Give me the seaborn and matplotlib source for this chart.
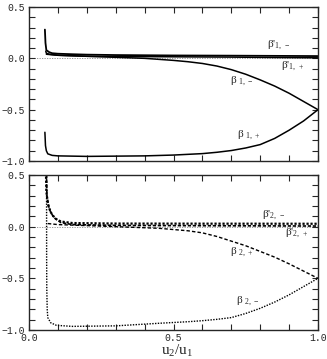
import numpy as np
import pandas as pd
import matplotlib
matplotlib.use("Agg")
import matplotlib.pyplot as plt
from matplotlib.ticker import MultipleLocator
import seaborn as sns

# --- values (x = u2/u1) ---
x_b1p_m = [0.055, 0.057, 0.06, 0.07, 0.08, 0.1, 0.15, 0.2, 0.3, 0.5, 0.7, 0.85, 1.0]
y_b1p_m = [0.28, 0.15, 0.08, 0.06, 0.05, 0.045, 0.04, 0.036, 0.032, 0.028, 0.026, 0.024, 0.022]

x_b1p_p = [0.058, 0.06, 0.07, 0.1, 0.15, 0.2, 0.3, 0.5, 0.7, 0.85, 1.0]
y_b1p_p = [0.07, 0.05, 0.04, 0.03, 0.025, 0.02, 0.018, 0.015, 0.012, 0.008, 0.005]

x_b1_m = [0.06, 0.1, 0.2, 0.3, 0.4, 0.5, 0.55, 0.6, 0.65, 0.7, 0.75, 0.8, 0.85, 0.9, 0.95, 1.0]
y_b1_m = [0.04, 0.03, 0.02, 0.01, 0.0, -0.02, -0.033, -0.05, -0.075, -0.11, -0.155, -0.21, -0.27, -0.34, -0.42, -0.5]

x_b1_p = [0.055, 0.057, 0.06, 0.065, 0.08, 0.1, 0.2, 0.4, 0.5, 0.6, 0.65, 0.7, 0.75, 0.8, 0.85, 0.9, 0.95, 1.0]
y_b1_p = [-0.72, -0.85, -0.9, -0.93, -0.945, -0.95, -0.955, -0.95, -0.942, -0.928, -0.915, -0.898, -0.873, -0.84, -0.78, -0.70, -0.61, -0.5]

x_b2p_m = [0.058, 0.06, 0.065, 0.075, 0.09, 0.11, 0.15, 0.3, 0.6, 1.0]
y_b2p_m = [0.6, 0.35, 0.22, 0.14, 0.08, 0.05, 0.035, 0.03, 0.029, 0.028]

x_b2p_p = [0.06, 0.062, 0.07, 0.085, 0.11, 0.15, 0.3, 0.6, 1.0]
y_b2p_p = [0.6, 0.3, 0.17, 0.09, 0.04, 0.02, 0.012, 0.009, 0.006]

x_b2_p = [0.065, 0.1, 0.2, 0.3, 0.45, 0.55, 0.6, 0.65, 0.7, 0.75, 0.8, 0.85, 0.9, 0.95, 1.0]
y_b2_p = [0.03, 0.02, 0.01, 0.0, -0.016, -0.04, -0.06, -0.095, -0.14, -0.185, -0.24, -0.295, -0.36, -0.43, -0.5]

x_b2_m = [0.0605, 0.0608, 0.061, 0.0615, 0.063, 0.065, 0.075, 0.095, 0.15, 0.3, 0.45, 0.55, 0.6, 0.65, 0.7, 0.75, 0.8, 0.85, 0.9, 0.95, 1.0]
y_b2_m = [0.6, 0.2, -0.3, -0.6, -0.8, -0.88, -0.93, -0.955, -0.965, -0.96, -0.935, -0.92, -0.91, -0.897, -0.88, -0.84, -0.79, -0.73, -0.66, -0.58, -0.5]

labels_top = [r"β'$_{1,\,-}$", r"β'$_{1,\,+}$", r"β $_{1,\,-}$", r"β $_{1,\,+}$"]
labels_bot = [r"β'$_{2,\,-}$", r"β'$_{2,\,+}$", r"β $_{2,\,+}$", r"β $_{2,\,-}$"]

sns.set_style("ticks")
plt.rcParams.update({
    "font.family": ["Liberation Mono", "DejaVu Sans"],
    "mathtext.fontset": "custom",
    "mathtext.rm": "Liberation Serif",
    "mathtext.it": "Liberation Serif",
    "mathtext.bf": "Liberation Serif:bold",
    "font.size": 7,
    "axes.linewidth": 1.0,
    "xtick.direction": "in",
    "ytick.direction": "in",
    "xtick.top": True,
    "ytick.right": True,
    "xtick.major.size": 4,
    "ytick.major.size": 4,
    "xtick.minor.size": 4,
    "ytick.minor.size": 4,
    "xtick.labelsize": 7,
    "ytick.labelsize": 7,
})

fig = plt.figure(figsize=(3.27, 3.59), dpi=100)
ax1 = fig.add_axes([0.0887, 0.5515, 0.8838, 0.429])
ax2 = fig.add_axes([0.0887, 0.0808, 0.8838, 0.4318])

def draw(ax, x, y, **kw):
    d = pd.DataFrame({"x": x, "y": y})
    sns.lineplot(data=d, x="x", y="y", sort=False, estimator=None, ax=ax, color="black", **kw)

draw(ax1, x_b1p_m, y_b1p_m, linewidth=1.3)
draw(ax1, x_b1p_p, y_b1p_p, linewidth=1.1)
draw(ax1, x_b1_m, y_b1_m, linewidth=1.1)
draw(ax1, x_b1_p, y_b1_p, linewidth=1.1)

draw(ax2, x_b2p_m, y_b2p_m, linewidth=1.6, linestyle=(0, (1, 0.8)))
draw(ax2, x_b2p_p, y_b2p_p, linewidth=1.2, linestyle=(0, (2, 1)))
draw(ax2, x_b2_p, y_b2_p, linewidth=1.0, linestyle=(0, (2.5, 1.5)))
draw(ax2, x_b2_m, y_b2_m, linewidth=1.0, linestyle=(0, (1, 1)))

for ax in (ax1, ax2):
    ax.axhline(0, color="#888888", linewidth=0.6, linestyle=(0, (1.5, 1.5)), zorder=0)
    ax.set_xlim(0, 1.0)
    ax.set_ylim(-1.0, 0.5)
    ax.xaxis.set_major_locator(MultipleLocator(0.5))
    ax.xaxis.set_minor_locator(MultipleLocator(0.1))
    ax.yaxis.set_major_locator(MultipleLocator(0.5))
    ax.yaxis.set_minor_locator(MultipleLocator(0.1))
    ax.set_ylabel("")
    ax.set_xlabel("")
    ax.tick_params(which="both", width=0.8, pad=3)

ax1.tick_params(labelbottom=False)
ax2.tick_params(axis="x", pad=2)
fig.text(0.54, 0.022, r"u$_2$/u$_1$", family="Liberation Serif", fontsize=11,
         ha="center", va="center")

fs = 8
for (tx, ty), lab in zip([(0.865, 0.13), (0.912, -0.08), (0.735, -0.22), (0.76, -0.75)], labels_top):
    ax1.text(tx, ty, lab, ha="center", va="center", fontsize=fs, family="Liberation Serif")
for (tx, ty), lab in zip([(0.846, 0.113), (0.924, -0.065), (0.735, -0.245), (0.758, -0.726)], labels_bot):
    ax2.text(tx, ty, lab, ha="center", va="center", fontsize=fs, family="Liberation Serif")

fig.savefig("out.png", dpi=100)
